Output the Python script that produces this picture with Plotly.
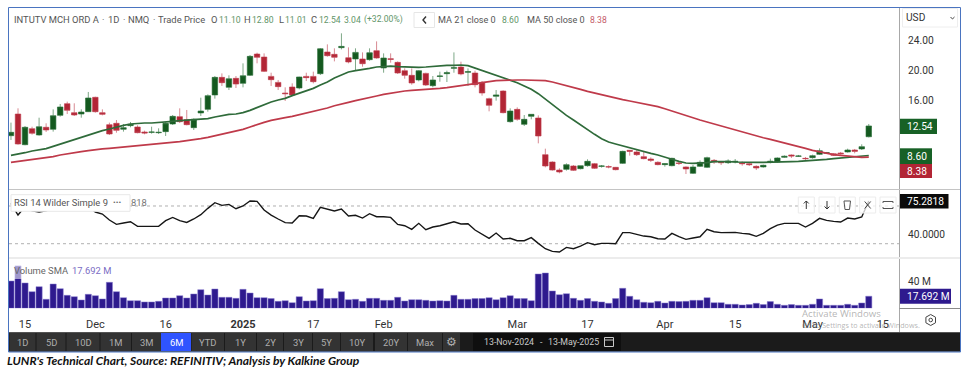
import plotly.graph_objects as go

W, H = 969, 374

DATES = """2024-11-13 2024-11-14 2024-11-15 2024-11-18 2024-11-19 2024-11-20 2024-11-21 2024-11-22 2024-11-25 2024-11-26
2024-11-27 2024-11-29 2024-12-02 2024-12-03 2024-12-04 2024-12-05 2024-12-06 2024-12-09 2024-12-10 2024-12-11
2024-12-12 2024-12-13 2024-12-16 2024-12-17 2024-12-18 2024-12-19 2024-12-20 2024-12-23 2024-12-24 2024-12-26
2024-12-27 2024-12-30 2024-12-31 2025-01-02 2025-01-03 2025-01-06 2025-01-07 2025-01-08 2025-01-10 2025-01-13
2025-01-14 2025-01-15 2025-01-16 2025-01-17 2025-01-21 2025-01-22 2025-01-23 2025-01-24 2025-01-27 2025-01-28
2025-01-29 2025-01-30 2025-01-31 2025-02-03 2025-02-04 2025-02-05 2025-02-06 2025-02-07 2025-02-10 2025-02-11
2025-02-12 2025-02-13 2025-02-14 2025-02-18 2025-02-19 2025-02-20 2025-02-21 2025-02-24 2025-02-25 2025-02-26
2025-02-27 2025-02-28 2025-03-03 2025-03-04 2025-03-05 2025-03-06 2025-03-07 2025-03-10 2025-03-11 2025-03-12
2025-03-13 2025-03-14 2025-03-17 2025-03-18 2025-03-19 2025-03-20 2025-03-21 2025-03-24 2025-03-25 2025-03-26
2025-03-27 2025-03-28 2025-03-31 2025-04-01 2025-04-02 2025-04-03 2025-04-04 2025-04-07 2025-04-08 2025-04-09
2025-04-10 2025-04-11 2025-04-14 2025-04-15 2025-04-16 2025-04-17 2025-04-21 2025-04-22 2025-04-23 2025-04-24
2025-04-25 2025-04-28 2025-04-29 2025-04-30 2025-05-01 2025-05-02 2025-05-05 2025-05-06 2025-05-07 2025-05-08
2025-05-09 2025-05-12 2025-05-13""".split()
FUTURE_DATES = ["2025-05-14", "2025-05-15", "2025-05-16"]

OPEN = [11.24,14.13,10.04,12.18,11.33,12.36,12.09,13.95,15.51,14.31,
        14.13,14.44,16.36,14.31,12.71,12.89,12.09,12.58,12.40,11.73,
        11.69,11.64,11.78,12.80,13.78,13.38,12.31,14.27,14.75,16.67,
        19.02,17.69,18.89,18.22,19.29,22.13,21.73,19.15,18.35,16.93,
        17.73,17.60,19.15,19.15,19.51,22.40,22.09,22.98,21.64,21.47,
        21.47,21.38,22.58,20.27,21.51,21.02,19.91,19.29,18.67,19.55,
        17.91,19.15,19.51,20.22,20.40,19.69,19.60,18.35,16.18,16.49,
        17.20,13.11,14.75,12.75,13.82,13.60,8.71,7.73,6.66,6.75,
        7.20,6.84,7.24,7.51,7.15,7.11,7.02,7.55,9.29,9.07,
        8.44,8.13,7.69,7.38,7.24,7.60,7.07,6.22,7.15,7.02,
        7.95,7.78,7.64,7.73,7.60,7.51,7.15,7.07,7.78,7.73,
        8.35,8.67,8.49,8.22,8.31,8.75,8.89,8.84,8.93,9.07,
        9.33,9.47,11.10]
CLOSE = [11.69,10.13,12.36,11.56,12.44,12.00,13.91,15.07,14.62,14.00,
         14.40,16.27,14.44,14.09,11.47,11.95,12.31,12.76,11.64,11.60,
         11.73,11.69,12.89,13.82,13.11,12.71,13.42,14.53,16.58,19.02,
         18.31,18.84,18.13,19.24,21.82,21.69,19.82,18.71,17.78,16.84,
         16.67,19.07,18.98,18.44,22.84,21.91,21.69,23.15,21.07,22.35,
         20.84,22.31,21.60,21.60,21.42,19.60,19.29,18.27,19.91,18.00,
         18.67,19.20,19.64,20.31,19.47,19.78,18.04,16.93,15.29,16.67,
         14.31,14.53,13.42,13.42,14.09,11.20,7.20,6.66,6.40,7.38,
         6.62,7.24,7.82,6.89,7.20,7.07,6.71,9.15,9.15,8.71,
         8.18,7.95,7.38,7.51,8.22,7.55,6.80,7.07,7.69,8.31,
         7.73,7.64,7.87,7.82,7.51,7.38,6.93,7.29,7.82,8.27,
         8.49,8.53,8.53,8.18,8.58,9.24,8.98,8.62,8.84,9.33,
         9.15,9.78,12.54]
HIGH = [12.98,14.89,12.53,12.44,13.64,12.89,14.75,15.47,15.78,15.56,
        14.75,17.07,16.44,14.75,12.98,13.33,12.80,13.07,12.62,11.91,
        12.44,12.22,13.07,14.00,14.89,14.67,13.55,16.31,16.75,19.20,
        19.55,19.29,19.20,20.89,22.00,22.31,22.22,19.64,18.67,17.69,
        18.22,19.11,19.64,19.78,22.93,23.42,22.89,24.89,23.02,22.89,
        22.35,22.89,23.82,22.22,22.22,21.15,20.22,20.22,20.00,19.64,
        19.20,19.78,19.91,22.35,21.11,20.22,19.91,18.53,16.31,17.33,
        17.29,14.89,15.02,14.00,14.09,13.95,9.51,7.82,6.89,7.55,
        7.33,7.24,8.09,7.60,7.33,7.29,7.07,9.24,9.33,9.33,
        9.11,8.35,7.82,7.55,8.31,7.78,7.15,7.33,7.95,8.44,
        8.13,7.87,8.09,8.13,7.82,7.73,7.29,7.38,8.18,8.35,
        8.62,8.75,8.67,8.40,8.71,9.55,9.07,8.93,9.07,9.51,
        9.47,10.09,12.80]
LOW = [10.67,10.05,9.96,11.38,11.25,11.73,11.78,13.78,14.13,13.87,
       13.64,14.40,14.31,13.95,11.33,11.64,11.78,12.36,11.56,11.42,
       11.51,11.47,11.20,12.67,12.93,12.62,12.00,13.87,14.44,16.18,
       17.87,17.33,17.60,17.69,19.20,20.89,19.73,17.87,17.33,15.87,
       16.53,17.42,18.53,18.22,19.33,21.78,21.15,22.75,20.89,19.91,
       20.44,21.24,21.51,19.64,20.98,19.47,18.84,18.04,18.49,17.87,
       17.69,18.44,18.40,19.64,19.29,17.87,17.69,16.58,14.49,15.91,
       14.22,12.98,13.24,12.53,13.42,10.22,7.02,6.58,6.22,6.58,
       6.53,6.75,7.11,6.80,6.98,6.89,6.62,7.47,8.58,8.53,
       8.09,7.73,7.29,7.11,7.15,7.33,6.13,6.13,7.07,6.93,
       7.47,7.33,7.47,7.55,7.24,7.20,6.66,6.98,7.55,7.64,
       8.27,8.27,8.40,7.91,8.18,8.67,8.80,8.53,8.71,8.98,
       8.89,9.33,11.01]
MA21 = [8.62,8.75,8.97,9.20,9.37,9.51,9.82,10.13,10.44,10.71,
        10.97,11.33,11.64,11.91,12.13,12.40,12.62,12.80,12.89,12.93,
        12.93,12.98,13.07,13.15,13.24,13.29,13.33,13.38,13.51,13.73,
        13.91,14.09,14.13,14.31,14.62,15.02,15.38,15.73,16.00,16.22,
        16.58,16.89,17.20,17.55,18.00,
        18.40,18.93,19.38,19.73,19.91,20.04,20.22,20.40,20.49,20.53,
        20.44,20.40,20.35,20.35,20.40,20.49,20.58,20.62,20.62,20.67,
        20.58,20.27,19.91,19.60,19.29,19.02,18.71,18.31,17.87,17.42,
        16.84,16.09,15.38,14.67,13.95,13.33,12.67,12.00,11.42,10.84,
        10.40,10.13,9.87,9.60,9.37,
        9.15,8.89,8.67,8.35,8.09,7.82,7.60,7.55,7.55,7.64,
        7.78,7.82,7.78,7.73,7.69,7.69,7.69,7.69,7.69,7.73,
        7.78,7.78,7.82,7.87,7.91,7.95,8.09,8.18,8.27,8.35,
        8.40,8.49,8.60]
MA50 = [7.69,7.82,7.91,8.04,8.13,8.27,8.44,8.67,8.84,8.97,
        9.11,9.24,9.38,9.47,9.55,9.64,9.73,9.78,9.87,9.91,
        10.00,10.09,10.22,10.31,10.44,10.58,10.67,10.84,11.02,11.24,
        11.47,11.64,11.82,12.09,12.40,12.76,13.02,13.29,13.51,13.64,
        13.82,14.04,14.22,14.49,14.71,
        14.93,15.24,15.51,15.69,15.91,16.09,16.31,16.53,16.75,16.93,
        17.11,17.20,17.29,17.33,17.42,17.47,17.55,17.64,17.78,17.91,
        18.04,18.22,18.40,18.49,18.58,18.62,18.67,18.67,18.67,18.67,
        18.67,18.58,18.40,18.18,17.91,17.69,17.42,17.15,16.93,16.67,
        16.40,16.22,16.04,15.87,15.69,
        15.47,15.29,15.11,14.84,14.53,14.22,13.87,13.60,13.33,13.07,
        12.80,12.53,12.22,11.95,11.69,11.42,11.20,10.97,10.75,10.53,
        10.31,10.09,9.82,9.55,9.29,9.07,8.84,8.71,8.62,8.53,
        8.44,8.35,8.38]
RSI = [72.8,60.4,69.3,65.0,63.6,65.0,67.5,71.0,69.3,67.5,
       67.5,69.3,63.6,61.5,55.1,50.5,51.9,53.3,48.4,48.4,
       48.4,48.4,54.4,57.9,54.4,52.6,56.2,60.8,67.5,73.5,
       70.7,71.7,67.1,70.0,75.3,74.9,65.7,60.4,56.2,52.3,
       51.9,59.7,59.4,56.9,68.6,66.4,64.7,66.8,59.4,60.1,
       57.2,61.8,58.6,58.6,57.9,50.5,49.1,45.2,51.6,44.9,
       47.7,49.1,50.9,53.3,50.9,51.2,44.5,39.9,35.7,41.3,
       35.0,35.7,33.2,33.2,36.4,30.4,24.7,21.9,21.2,26.1,
       24.7,27.5,31.1,28.9,30.4,30.4,30.0,41.7,41.7,39.9,
       38.1,37.4,35.3,35.0,41.0,37.4,34.6,36.0,37.4,45.2,
       42.7,41.7,41.7,42.0,41.0,40.3,37.8,41.0,45.9,49.8,
       51.6,51.6,51.6,47.7,51.6,56.9,54.8,53.7,53.0,57.2,
       56.2,58.3,75.2818]
VOLUME_M = [40.0,62.0,37.1,24.4,31.7,13.2,35.6,28.8,19.0,17.1,
            12.2,20.5,18.5,13.7,38.1,24.4,15.6,11.2,11.2,9.3,
            9.3,10.2,15.1,15.1,18.5,15.1,21.0,27.3,19.5,28.3,
            16.1,16.1,14.6,27.8,22.4,15.6,15.6,14.2,10.2,11.2,
            8.3,17.1,10.7,11.2,28.8,14.2,14.6,24.4,12.7,13.2,
            10.2,14.6,14.6,11.7,11.7,16.1,10.7,12.7,12.7,11.7,
            10.7,11.2,10.7,19.0,13.2,13.2,14.2,14.2,15.6,12.7,
            15.6,18.5,14.2,14.2,11.2,50.3,51.7,25.4,20.0,21.5,
            14.6,11.7,14.2,10.2,9.3,7.3,14.2,29.3,17.6,12.7,
            8.8,8.3,10.2,7.8,10.2,9.8,10.2,11.7,11.7,15.6,
            8.3,8.3,5.9,5.9,4.9,5.4,7.3,5.4,9.8,5.9,
            4.4,5.4,4.4,4.4,5.9,13.7,4.4,4.4,4.4,5.9,
            4.4,7.8,17.692]

TICK_DATES = ["2024-11-15","2024-12-02","2024-12-16","2025-01-02","2025-01-17","2025-02-03",
              "2025-03-03","2025-03-17","2025-04-01","2025-04-15","2025-05-01","2025-05-15"]
TICK_TEXT = ["15","Dec","16","<b>2025</b>","17","Feb","Mar","17","Apr","15","May","15"]
PRICE_TICKS = [24, 20, 16]
RSI_TICKS = [40]
VOL_TICKS = [40]
RSI_BANDS = [70, 30]
BUTTONS = ["1D","5D","10D","1M","3M","6M","YTD","1Y","2Y","3Y","5Y","10Y","20Y","Max"]

# ---- pixel helpers for chrome ----
FONT = "Roboto, 'Open Sans', sans-serif"
px = lambda x: x / W
py = lambda y: 1 - y / H
shapes, notes = [], []

def rect(x0, y0, x1, y1, fill=None, line=None, lw=1, layer="above", opacity=None):
    s = dict(type="rect", xref="paper", yref="paper", x0=px(x0), x1=px(x1), y0=py(y0), y1=py(y1),
             line=dict(color=line or "rgba(0,0,0,0)", width=lw if line else 0), layer=layer)
    if fill: s["fillcolor"] = fill
    if opacity is not None: s["opacity"] = opacity
    shapes.append(s)

def seg(x0, y0, x1, y1, color, lw=1, dash=None):
    shapes.append(dict(type="line", xref="paper", yref="paper", x0=px(x0), x1=px(x1), y0=py(y0), y1=py(y1),
                       line=dict(color=color, width=lw, dash=dash or "solid"), layer="above"))

def poly(points, color, lw=1, close=True):
    d = "M " + " L ".join(f"{px(a):.5f},{py(b):.5f}" for a, b in points) + (" Z" if close else "")
    shapes.append(dict(type="path", xref="paper", yref="paper", path=d, line=dict(color=color, width=lw), layer="above"))

def txt(x, y, text, size=11, color="#555555", anchor="left", family=FONT):
    notes.append(dict(x=px(x), y=py(y), xref="paper", yref="paper", text=text, showarrow=False,
                      xanchor=anchor, yanchor="middle", font=dict(size=size, color=color, family=family),
                      borderpad=0, borderwidth=0))

fig = go.Figure()
GREEN, RED, INDIGO = "#14591f", "#b22535", "#2e1a8e"
fig.add_trace(go.Candlestick(
    x=DATES, open=OPEN, high=HIGH, low=LOW, close=CLOSE, xaxis="x", yaxis="y", showlegend=False,
    increasing=dict(line=dict(color="rgba(40,110,55,0.6)", width=1), fillcolor=GREEN),
    decreasing=dict(line=dict(color="rgba(190,60,75,0.6)", width=1), fillcolor=RED),
    whiskerwidth=0))
fig.add_trace(go.Scatter(x=DATES, y=MA21, mode="lines", line=dict(color="#2f6b3a", width=1.7), yaxis="y", showlegend=False))
fig.add_trace(go.Scatter(x=DATES, y=MA50, mode="lines", line=dict(color="#bf3a4a", width=1.7), yaxis="y", showlegend=False))
fig.add_trace(go.Scatter(x=DATES, y=RSI, mode="lines", line=dict(color="#161616", width=1.4), yaxis="y2", showlegend=False))
fig.add_trace(go.Bar(x=DATES, y=VOLUME_M, marker=dict(color=INDIGO, line=dict(color="#8a7fd0", width=0.5)),
                     width=0.88, yaxis="y3", showlegend=False))

for band in RSI_BANDS:
    shapes.append(dict(type="line", xref="paper", yref="y2", x0=px(9), x1=px(899), y0=band, y1=band,
                       line=dict(color="#b0b0b0", width=1, dash="3px,3px"), layer="below"))

# ---- frames and separators ----
seg(899.5, 8, 899.5, 332, "#a8a8a8")
seg(9, 189.5, 960, 189.5, "#c4c4c4")
seg(9, 258, 960, 258, "#ececec", 2)
seg(899.5, 308.5, 960, 308.5, "#8a8a8a")
rect(9, 332.3, 960, 351.7, fill="#1b1b1b")
rect(8.5, 7.5, 960.5, 352, line="#4a74c0")

# ---- top legend row ----
TG, TR, TT = "#5f9568", "#c45a68", "#555555"
LS = 9.4
NS = 8.6
for x, t, c, s in [(14, "INTUTV MCH ORD A", TT, LS), (102, "·", TT, LS), (108, "1D", TT, LS), (123, "·", TT, LS),
                   (128, "NMQ", TT, LS), (153, "·", TT, LS), (158, "Trade Price", TT, LS),
                   (211, "O", TT, LS), (218.5, "11.10", TG, NS), (244, "H", TT, LS), (252, "12.80", TG, NS),
                   (279, "L", TT, LS), (284.5, "11.01", TG, NS), (311, "C", TT, LS), (318.5, "12.54", TG, NS),
                   (344, "3.04", TG, NS), (364, "(+32.00%)", TG, NS), (438, "MA 21 close 0", TT, 9.1), (502, "8.60", TG, NS),
                   (527, "MA 50 close 0", TT, 9.1), (590, "8.38", TR, NS)]:
    txt(x, 20, t, s, c)
rect(414, 12.5, 434.5, 27.5, fill="#ffffff", line="#e6e6e6")
poly([(426, 16.5), (423, 20), (426, 23.5)], "#333333", 1.4, close=False)

# ---- USD selector and price tags ----
rect(902.5, 8.5, 957.5, 27, fill="#ffffff", line="#eeeeee")
txt(905.5, 18, "USD", 10.2, "#333333")
poly([(950.5, 17), (952.5, 19), (954.5, 17)], "#444444", 1, close=False)
for x0, y0, x1, y1, c, t in [(900, 118.7, 937, 134, "#176126", "12.54"), (900, 148.3, 932, 164, "#176126", "8.60"),
                             (900, 164, 932, 178, "#b22535", "8.38"), (900, 194, 948.5, 208.5, "#0a0a0a", "75.2818"),
                             (900, 288.7, 951, 303.7, INDIGO, "17.692 M")]:
    rect(x0, y0, x1, y1, fill=c)
    txt(906.5, (y0 + y1) / 2, t, 10.2, "#ffffff")

# ---- RSI legend and tool buttons ----
rect(11, 194.7, 130, 211.3, fill="#ffffff", line="#e8e8e8")
txt(14, 203, "RSI 14 Wilder Simple 9", LS, TT)
txt(113, 203, "•••", 8, "#666666")
txt(130.5, 203, "818", LS, "#777777")
for cx in [806.3, 827, 847.3, 867.7, 888]:
    rect(cx - 8, 197, cx + 8, 213, fill="rgba(255,255,255,0.75)", line="#ececec")
poly([(806.3, 209), (806.3, 201)], "#333333", 1, False); poly([(803.8, 203.5), (806.3, 201), (808.8, 203.5)], "#333333", 1, False)
poly([(827, 201), (827, 209)], "#333333", 1, False); poly([(824.5, 206.5), (827, 209), (829.5, 206.5)], "#333333", 1, False)
poly([(844, 201), (850.5, 201), (849.5, 209.5), (845, 209.5)], "#555555", 1)
poly([(864.7, 201.5), (870.7, 208.5)], "#444444", 1, False); poly([(870.7, 201.5), (864.7, 208.5)], "#444444", 1, False)
poly([(883, 203), (883, 201.5), (893, 201.5), (893, 203)], "#555555", 1, False)
poly([(883, 207), (883, 208.5), (893, 208.5), (893, 207)], "#555555", 1, False)

# ---- volume legend ----
rect(9, 265.5, 112, 279, fill="rgba(255,255,255,0.55)")
txt(14, 270.5, "Volume SMA", LS, "#666666")
txt(72, 270.5, "17.692 M", LS, "#7a6cc4")

# ---- axis-corner gear ----
poly([(930.7, 314.5), (935.5, 317.2), (935.5, 322.8), (930.7, 325.5), (925.9, 322.8), (925.9, 317.2)], "#444444", 1)
shapes.append(dict(type="circle", xref="paper", yref="paper", x0=px(928.9), x1=px(932.5), y0=py(321.8), y1=py(318.2),
                   line=dict(color="#444444", width=1), layer="above"))

# ---- watermark ----
txt(801.5, 313.5, "Activate Windows", 9.6, "rgba(130,130,130,0.6)", family="'Open Sans', sans-serif")
txt(801.5, 324.5, "Go to Settings to activate Windows.", 7.2, "rgba(130,130,130,0.6)", family="'Open Sans', sans-serif")

# ---- range buttons ----
EDGES = [(9.5,35.5),(36.5,65.5),(66.5,99.5),(100.5,131),(132,161),(161,191),(191.5,224),(225,256),
         (257,283),(284,312),(313,340),(341,373),(375,407),(408,442)]
for (a, b), label in zip(EDGES, BUTTONS):
    active = label == "6M"
    rect(a, 333, b, 351, fill="#2f54ff" if active else "#333333")
    txt((a + b) / 2, 342, label, 9.4, "#ffffff" if active else "#aeaeae", anchor="center")
rect(443, 333, 460, 351, fill="#333333")
txt(451.5, 342, "⚙", 12, "#aeaeae", anchor="center", family="'DejaVu Sans'")
rect(473, 333, 621, 351, fill="#0f0f0f")
txt(483.5, 342, "13-Nov-2024", 8.8, "#c8c8c8")
txt(539.5, 342, "-", 8.8, "#c8c8c8")
txt(547.5, 342, "13-May-2025", 8.8, "#c8c8c8")
rect(604.5, 337.5, 613.5, 346.5, line="#c8c8c8")
seg(604.5, 340, 613.5, 340, "#c8c8c8")

# ---- caption ----
txt(7, 360, "<b><i>LUNR's Technical Chart, Source: REFINITIV; Analysis by Kalkine Group</i></b>", 12, "#111111",
    family="Lato, sans-serif")

fig.update_layout(
    width=W, height=H, autosize=False, margin=dict(l=0, r=0, t=0, b=0),
    paper_bgcolor="#ffffff", plot_bgcolor="#ffffff", hovermode=False, bargap=0.1, boxgap=0.22, boxgroupgap=0,
    shapes=shapes, annotations=notes, showlegend=False,
    font=dict(family=FONT, size=11, color="#333333"),
    xaxis=dict(type="category", categoryorder="array", categoryarray=DATES + FUTURE_DATES,
               domain=[px(9), px(899)], range=[-0.28, 126.3], anchor="y3", rangeslider=dict(visible=False),
               showgrid=False, zeroline=False, showline=False, tickmode="array", tickvals=TICK_DATES,
               ticktext=TICK_TEXT, ticks="outside", ticklen=5, tickcolor="rgba(0,0,0,0)",
               tickfont=dict(size=11, color="#333333")),
    yaxis=dict(domain=[py(189), py(8)], range=[4.13, 28.27], side="right", anchor="x", showgrid=False, zeroline=False,
               tickmode="array", tickvals=PRICE_TICKS, ticktext=[f"{v:.2f}" for v in PRICE_TICKS],
               ticks="outside", ticklen=6, tickcolor="rgba(0,0,0,0)", tickfont=dict(size=10.2, color="#333333")),
    yaxis2=dict(domain=[py(257), py(191)], range=[15.9, 85.9], side="right", anchor="x", showgrid=False, zeroline=False,
                tickmode="array", tickvals=RSI_TICKS, ticktext=[f"{v:.4f}" for v in RSI_TICKS],
                ticks="outside", ticklen=6, tickcolor="rgba(0,0,0,0)", tickfont=dict(size=10.2, color="#333333")),
    yaxis3=dict(domain=[py(308.3), py(258)], range=[0, 73.7], side="right", anchor="x", showgrid=False, zeroline=False,
                tickmode="array", tickvals=VOL_TICKS, ticktext=[f"{v} M" for v in VOL_TICKS],
                ticks="outside", ticklen=6, tickcolor="rgba(0,0,0,0)", tickfont=dict(size=10.2, color="#333333")),
)
fig.write_html("out.html", config=dict(displayModeBar=False),
               post_script="document.body.style.margin='0';document.documentElement.style.overflow='hidden';")
